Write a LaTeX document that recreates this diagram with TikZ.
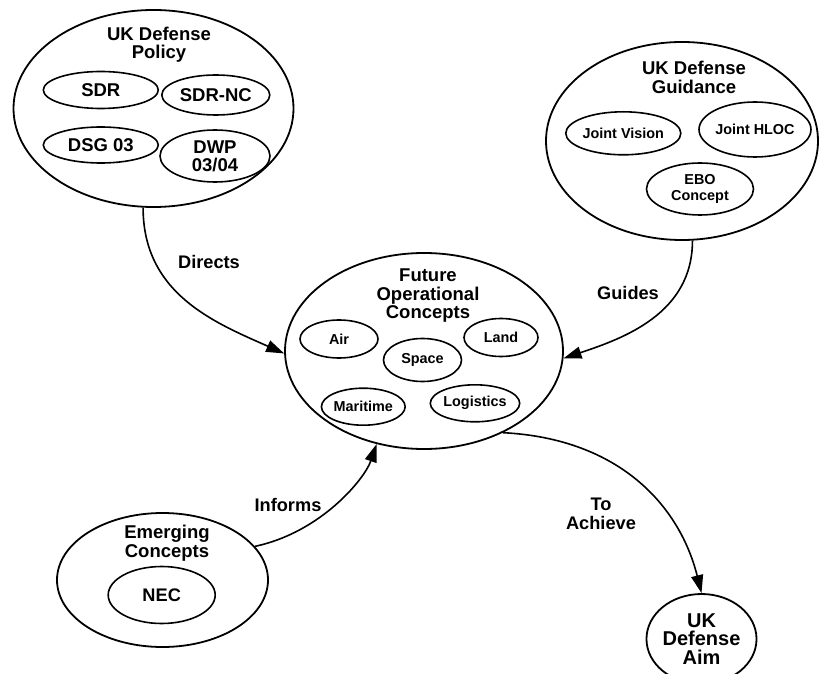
\documentclass[tikz,border=0pt]{standalone}
\usepackage{fontspec}
\setmainfont{Liberation Sans}
\usetikzlibrary{shapes.geometric,arrows.meta}
\begin{document}
\begin{tikzpicture}[x=1pt,y=1pt,
  every node/.style={font=\bfseries},
  group/.style={draw, ellipse, line width=1.8pt, inner sep=0pt},
  item/.style={draw, ellipse, line width=1.6pt, inner sep=0pt, align=center},
  esize/.style 2 args={minimum width=#1pt, minimum height=#2pt},
  title/.style={align=center, inner sep=0pt, font=\bfseries\fontsize{18.5}{18.5}\selectfont},
  big/.style={font=\bfseries\fontsize{18.5}{18}\selectfont},
  small/.style={font=\bfseries\fontsize{14.4}{15.5}\selectfont},
  lbl/.style={inner sep=0pt, align=center, font=\bfseries\fontsize{18.2}{18.5}\selectfont},
  link/.style={line width=1.6pt, -{Triangle[length=18pt,width=12pt]}}
]
\fill[white] (0,0) rectangle (819,673);
\useasboundingbox (0,0) rectangle (819,673);

% UK Defense Policy
\node[group, esize={280}{197}] (policy) at (153.5,564.5) {};
\node[title] (policytitle) at (159,628.5) {UK Defense\\Policy};
\node[item, big, esize={115}{37}] (sdr) at (100.8,583) {SDR};
\node[item, big, esize={108}{40}] (sdrnc) at (215.8,578) {SDR-NC};
\node[item, big, esize={115}{36}] (dsg) at (100.8,528) {DSG 03};
\node[item, big, esize={110}{52}] (dwp) at (215,517) {DWP\\03/04};

% UK Defense Guidance
\node[group, esize={272}{198}] (guidance) at (682,532) {};
\node[title] (guidancetitle) at (694,595.5) {UK Defense\\Guidance};
\node[item, small, esize={107}{43}] (jv) at (623.3,539.7) {Joint Vision};
\node[item, small, esize={104}{55}] (jh) at (755,543.5) {Joint HLOC};
\node[item, small, esize={107}{52}] (ebo) at (700,484) {EBO\\Concept};

% Future Operational Concepts
\node[group, esize={278}{196}] (future) at (424,322) {};
\node[title] (futuretitle) at (428,377) {Future\\Operational\\Concepts};
\node[item, small, esize={78}{38}] (air) at (339,334) {Air};
\node[item, small, esize={78}{43}] (space) at (422.5,313) {Space};
\node[item, small, esize={74}{38}] (land) at (501,335.5) {Land};
\node[item, small, esize={83}{37}] (maritime) at (363.3,266.3) {Maritime};
\node[item, small, esize={77}{37}] (logistics) at (475,269.7) {Logistics};

% Emerging Concepts
\node[group, esize={211}{134}] (emerging) at (162.5,93) {};
\node[title] (emergingtitle) at (167,130) {Emerging\\Concepts};
\node[item, esize={107}{57}, font=\bfseries\fontsize{18.2}{18}\selectfont] (nec) at (161.7,78) {NEC};

% UK Defense Aim
\node[group, esize={107}{90}, align=center, font=\bfseries\fontsize{20}{18.5}\selectfont] (aim) at (701.5,34) {UK\\Defense\\Aim};

% Connectors
\draw[link] (policy.-96) .. controls +(0,-86) and +(-70,31) .. (future.181);
\draw[link] (guidance.-84) .. controls +(0,-73) and +(60,20) .. (future.-3);
\draw[link] (emerging.20) .. controls +(66,14) and +(-12,-35) .. (future.-117);
\draw[link] (future.-46) .. controls +(118,-6) and +(-21.5,86) .. (aim.north);

% Connector labels
\node[lbl] (directs) at (209,411) {Directs};
\node[lbl] (guides) at (628,380) {Guides};
\node[lbl] (informs) at (288,168) {Informs};
\node[lbl] (achieve) at (601,159) {To\\Achieve};
\end{tikzpicture}
\end{document}
